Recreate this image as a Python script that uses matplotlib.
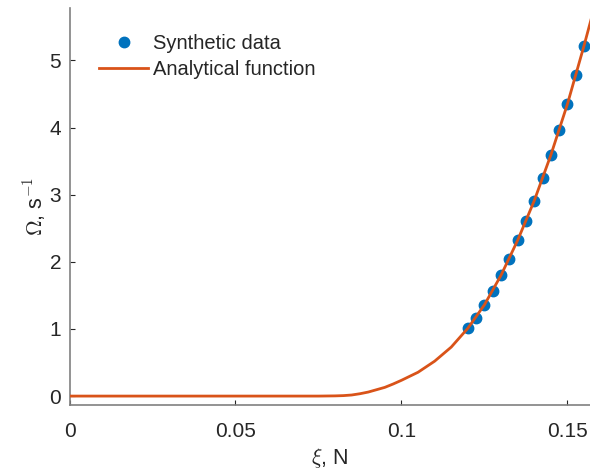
import numpy as np
import matplotlib as mpl
mpl.use('Agg')
from matplotlib import pyplot as plt

plt.rcParams['font.family'] = ['Liberation Sans', 'DejaVu Sans']
plt.rcParams['mathtext.fontset'] = 'cm'

# synthetic data points
xData = [0.12, 0.1225, 0.125, 0.1275, 0.13, 0.1325, 0.135, 0.1375,
         0.14, 0.1425, 0.145, 0.1475, 0.15, 0.1525, 0.155]
yData = [1.01, 1.16, 1.36, 1.56, 1.80, 2.04, 2.32, 2.61,
         2.91, 3.25, 3.59, 3.96, 4.35, 4.78, 5.22]

# analytical function
xFit = [0.0, 0.075, 0.08, 0.0825, 0.085, 0.0875, 0.09, 0.0925, 0.095, 0.0975,
        0.1, 0.105, 0.11, 0.115, 0.12, 0.125, 0.13, 0.135, 0.14, 0.145,
        0.15, 0.155, 0.1575]
yFit = [0.0, 0.0, 0.003, 0.007, 0.016, 0.035, 0.06, 0.095, 0.13, 0.18,
        0.235, 0.355, 0.52, 0.73, 1.01, 1.36, 1.80, 2.32, 2.91, 3.59,
        4.35, 5.22, 5.68]

xTicks = [0, 0.05, 0.1, 0.15]
xTickLabels = ['0', '0.05', '0.1', '0.15']
yTicks = [0, 1, 2, 3, 4, 5]

cBlue = '#0072BD'
cOrange = '#D95319'
cAxis = '#808080'
cText = '#262626'

f = plt.figure(figsize = (5.9, 4.76), dpi = 100)
ax1 = f.add_axes([0.1178, 0.149, 0.8822, 0.834])

ax1.plot(xData, yData, 'o',
         color = cBlue,
         ms = 7.5,
         label = 'Synthetic data',
         zorder = 2)
ax1.plot(xFit, yFit,
         color = cOrange,
         lw = 2.0,
         label = 'Analytical function',
         zorder = 3)

# axes limits and ticks
ax1.set_xlim(0.0, 0.1568)
ax1.set_ylim(-0.134, 5.78)
ax1.set_xticks(xTicks)
ax1.set_xticklabels(xTickLabels)
ax1.set_yticks(yTicks)
ax1.tick_params(direction = 'in', length = 3.5, width = 0.8,
                color = cText, labelcolor = cText, labelsize = 15)
ax1.tick_params(axis = 'x', pad = 12)
ax1.tick_params(axis = 'y', pad = 6)

for side in ['top', 'right']:
    ax1.spines[side].set_visible(False)
for side in ['left', 'bottom']:
    ax1.spines[side].set_color(cAxis)
    ax1.spines[side].set_linewidth(1.2)

# labeling
ax1.set_xlabel(r'$\xi$, N', fontsize = 15.5, color = cText, labelpad = 4)
ax1.set_ylabel(r'$\Omega$, s$^{-1}$', fontsize = 15.5, color = cText, labelpad = 1)

# legend
leg = ax1.legend(loc = 'upper left',
                 bbox_to_anchor = (0.042, 0.955),
                 fontsize = 14.5,
                 handlelength = 2.4,
                 handletextpad = 0.25,
                 labelspacing = 0.35,
                 borderaxespad = 0.0)
leg.draw_frame(False)
for t in leg.get_texts():
    t.set_color(cText)

f.savefig('out.png', dpi = 100)
plt.close()
